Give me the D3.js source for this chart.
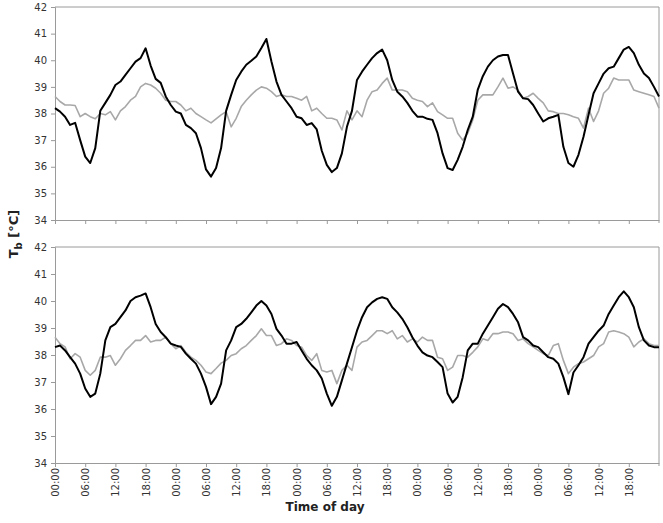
<!DOCTYPE html>
<html>
<head>
<meta charset="utf-8">
<script src="https://cdn.jsdelivr.net/npm/d3@7"></script>
<style>
  body { margin: 0; background: #fff; }
  text { font-family: "DejaVu Sans", Verdana, sans-serif; }
</style>
</head>
<body>
<div id="chart"></div>
<script>
// hours since 00:00 of day 1, one reading per hour
var hours = d3.range(0, 121);
var tickLabels = ["00:00", "06:00", "12:00", "18:00"];
var yTicks = [34, 35, 36, 37, 38, 39, 40, 41, 42];

var topBlack = [38.2, 38.07, 37.88, 37.57, 37.65, 37.0, 36.38, 36.14, 36.7, 38.1,
  38.4, 38.7, 39.07, 39.2, 39.45, 39.7, 39.95, 40.08, 40.45, 39.8,
  39.3, 39.15, 38.64, 38.32, 38.07, 38.0, 37.57, 37.45, 37.26, 36.7,
  35.9, 35.63, 35.95, 36.7, 38.1, 38.7, 39.26, 39.57, 39.83, 39.98,
  40.14, 40.46, 40.8, 39.95, 39.2, 38.7, 38.45, 38.2, 37.88, 37.82,
  37.57, 37.64, 37.4, 36.6, 36.07, 35.8, 35.95, 36.5, 37.5, 38.1,
  39.26, 39.57, 39.83, 40.08, 40.27, 40.4, 40.0, 39.26, 38.82, 38.64,
  38.4, 38.1, 37.88, 37.88, 37.8, 37.76, 37.26, 36.5, 35.95, 35.88,
  36.26, 36.75, 37.38, 37.88, 38.9, 39.4, 39.76, 40.0, 40.14, 40.2,
  40.2, 39.5, 38.82, 38.57, 38.54, 38.32, 38.0, 37.7, 37.82, 37.88,
  37.95, 36.75, 36.14, 36.0, 36.45, 37.13, 37.95, 38.76, 39.13, 39.5,
  39.7, 39.76, 40.08, 40.4, 40.5, 40.27, 39.83, 39.5, 39.33, 39.0,
  38.64];

var topGray = [38.64, 38.45, 38.32, 38.32, 38.3, 37.88, 38.0, 37.88, 37.8, 38.0,
  37.95, 38.07, 37.76, 38.1, 38.26, 38.5, 38.64, 39.0, 39.13, 39.07,
  38.95, 38.76, 38.5, 38.45, 38.45, 38.32, 38.1, 38.2, 38.0, 37.88,
  37.76, 37.65, 37.8, 37.95, 38.07, 37.5, 37.82, 38.26, 38.5, 38.7,
  38.88, 39.0, 38.95, 38.82, 38.64, 38.7, 38.64, 38.64, 38.57, 38.5,
  38.64, 38.1, 38.2, 38.0, 37.82, 37.82, 37.76, 37.38, 38.1, 37.76,
  38.1, 37.88, 38.5, 38.82, 38.88, 39.13, 39.33, 38.88, 38.88, 38.88,
  38.82, 38.57, 38.5, 38.45, 38.26, 38.4, 38.07, 37.95, 37.82, 37.82,
  37.26, 37.0, 37.26, 37.76, 38.5, 38.7, 38.7, 38.7, 39.0, 39.33,
  38.95, 39.0, 38.88, 38.57, 38.64, 38.76, 38.57, 38.4, 38.1, 38.07,
  38.0, 38.0, 37.95, 37.88, 37.82, 37.45, 38.2, 37.7, 38.1, 38.76,
  38.95, 39.33, 39.26, 39.26, 39.26, 38.88, 38.82, 38.76, 38.7, 38.64,
  38.2];

var bottomBlack = [38.29, 38.35, 38.17, 37.92, 37.68, 37.31, 36.76, 36.45, 36.57, 37.31,
  38.54, 39.03, 39.15, 39.4, 39.65, 40.0, 40.14, 40.2, 40.28, 39.77,
  39.15, 38.85, 38.66, 38.42, 38.35, 38.3, 38.05, 37.86, 37.68, 37.31,
  36.82, 36.18, 36.45, 36.94, 38.17, 38.54, 39.03, 39.15, 39.34, 39.58,
  39.83, 40.0, 39.83, 39.52, 38.97, 38.72, 38.42, 38.42, 38.48, 38.17,
  37.86, 37.62, 37.43, 37.13, 36.57, 36.12, 36.45, 37.06, 37.68, 38.29,
  38.9, 39.4, 39.77, 39.95, 40.08, 40.14, 40.08, 39.77, 39.58, 39.34,
  39.03, 38.66, 38.35, 38.1, 37.98, 37.92, 37.74, 37.55, 36.57, 36.24,
  36.45, 37.18, 38.17, 38.42, 38.42, 38.79, 39.09, 39.4, 39.71, 39.89,
  39.77, 39.52, 39.21, 38.66, 38.54, 38.35, 38.29, 38.1, 37.92, 37.86,
  37.68, 37.18, 36.55, 37.35, 37.62, 37.92, 38.42, 38.66, 38.9, 39.09,
  39.52, 39.83, 40.14, 40.36, 40.14, 39.77, 39.03, 38.54, 38.35, 38.29,
  38.29];

var bottomGray = [38.66, 38.42, 38.3, 37.86, 38.05, 37.92, 37.43, 37.25, 37.43, 37.92,
  37.92, 37.98, 37.62, 37.86, 38.17, 38.35, 38.54, 38.54, 38.72, 38.48,
  38.54, 38.54, 38.66, 38.42, 38.23, 38.35, 38.1, 37.92, 37.8, 37.62,
  37.37, 37.31, 37.5, 37.7, 37.8, 37.98, 38.05, 38.23, 38.35, 38.54,
  38.72, 38.97, 38.72, 38.72, 38.35, 38.42, 38.6, 38.54, 38.35, 38.29,
  37.98, 37.8, 38.05, 37.43, 37.37, 37.43, 36.94, 37.43, 37.62, 37.43,
  38.29, 38.48, 38.54, 38.72, 38.9, 38.9, 38.79, 38.9, 38.6, 38.72,
  38.48, 38.6, 38.48, 38.66, 38.54, 38.54, 37.92, 37.86, 37.43, 37.55,
  37.98, 37.98, 37.92, 38.1, 38.3, 38.6, 38.54, 38.79, 38.79, 38.85,
  38.85, 38.79, 38.54, 38.6, 38.42, 38.3, 38.17, 38.05, 37.98, 38.35,
  38.42, 37.8, 37.31, 37.55, 37.68, 37.74, 37.86, 37.98, 38.3, 38.42,
  38.85, 38.9, 38.85, 38.79, 38.66, 38.3, 38.48, 38.6, 38.42, 38.35,
  38.35];

var width = 663, height = 523;
var left = 55, right = 659;
var axisColor = "#9a9a9a";

var svg = d3.select("#chart").append("svg")
  .attr("width", width)
  .attr("height", height);

var x = d3.scaleLinear().domain([0, 120]).range([left, right]);
var xTickValues = d3.range(0, 120, 6);

function drawPanel(top, bottom, blackData, grayData, showLabels) {
  var y = d3.scaleLinear().domain([34, 42]).range([bottom, top]);
  var g = svg.append("g");

  // plot area frame (top and right)
  g.append("line").attr("x1", left).attr("x2", right).attr("y1", top).attr("y2", top)
    .attr("stroke", axisColor).attr("stroke-width", 1);
  g.append("line").attr("x1", right).attr("x2", right).attr("y1", top).attr("y2", bottom + 3)
    .attr("stroke", axisColor).attr("stroke-width", 1);

  var yAxis = g.append("g")
    .attr("transform", "translate(" + left + ",0)")
    .call(d3.axisLeft(y).tickValues(yTicks).tickSize(4).tickPadding(4).tickFormat(d3.format("d")));
  yAxis.select(".domain").attr("stroke", axisColor);
  yAxis.selectAll(".tick line").attr("stroke", axisColor);
  yAxis.selectAll("text").attr("fill", "#333").style("font-size", "10px");

  var xAxis = g.append("g")
    .attr("transform", "translate(0," + bottom + ")")
    .call(d3.axisBottom(x).tickValues(xTickValues).tickSize(4).tickSizeOuter(0)
      .tickFormat(function(d) { return showLabels ? tickLabels[(d / 6) % 4] : ""; }));
  xAxis.select(".domain").attr("stroke", axisColor);
  xAxis.selectAll(".tick line").attr("stroke", axisColor);
  xAxis.selectAll("text")
    .attr("fill", "#333")
    .style("font-size", "10px")
    .attr("transform", "rotate(-90)")
    .attr("text-anchor", "end")
    .attr("x", -5)
    .attr("y", 0)
    .attr("dy", "0.35em");

  var line = d3.line()
    .x(function(d, i) { return x(hours[i]); })
    .y(function(d) { return y(d); });

  g.append("path").datum(grayData)
    .attr("d", line)
    .attr("fill", "none")
    .attr("stroke", "#a8a8a8")
    .attr("stroke-width", 1.6)
    .attr("stroke-linejoin", "round");

  g.append("path").datum(blackData)
    .attr("d", line)
    .attr("fill", "none")
    .attr("stroke", "#000")
    .attr("stroke-width", 2)
    .attr("stroke-linejoin", "round");
}

drawPanel(7, 220, topBlack, topGray, false);
drawPanel(247, 463, bottomBlack, bottomGray, true);

// axis titles
var yTitle = svg.append("text")
  .attr("transform", "translate(18,234) rotate(-90)")
  .attr("text-anchor", "middle")
  .style("font-size", "13px")
  .style("font-weight", "bold")
  .attr("fill", "#222");
yTitle.append("tspan").text("T");
yTitle.append("tspan").attr("dy", 4).style("font-size", "10px").text("b");
yTitle.append("tspan").attr("dy", -4).text(" [°C]");

svg.append("text")
  .attr("x", 325)
  .attr("y", 511)
  .attr("text-anchor", "middle")
  .style("font-size", "12px")
  .style("font-weight", "bold")
  .attr("fill", "#222")
  .text("Time of day");
</script>
</body>
</html>
